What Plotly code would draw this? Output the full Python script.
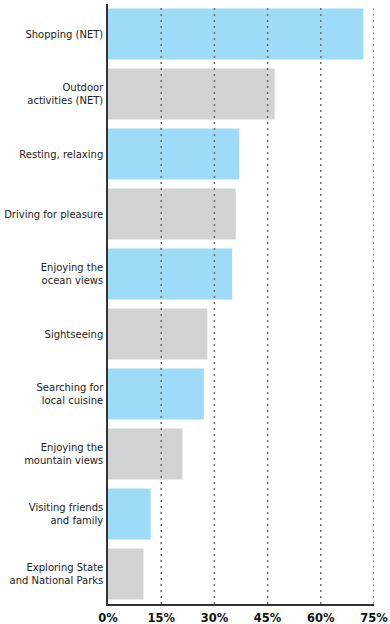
import plotly.graph_objects as go

categories = [
    "Shopping (NET)",
    "Outdoor<br>activities (NET)",
    "Resting, relaxing",
    "Driving for pleasure",
    "Enjoying the<br>ocean views",
    "Sightseeing",
    "Searching for<br>local cuisine",
    "Enjoying the<br>mountain views",
    "Visiting friends<br>and family",
    "Exploring State<br>and National Parks",
]
values = [72, 47, 37, 36, 35, 28, 27, 21, 12, 10]
tick_vals = [0, 15, 30, 45, 60, 75]
tick_text = ["0%", "15%", "30%", "45%", "60%", "75%"]

BLUE = "#9DDBF6"
GRAY = "#D1D2D4"
colors = [BLUE if i % 2 == 0 else GRAY for i in range(len(values))]

fig = go.Figure(
    go.Bar(
        x=values,
        y=categories,
        orientation="h",
        marker=dict(color=colors, line=dict(width=0)),
        hoverinfo="skip",
    )
)

shapes = []
for v in tick_vals[1:]:
    shapes.append(
        dict(
            type="line", xref="x", yref="paper", x0=v, x1=v, y0=0, y1=1,
            line=dict(color="#6f6f6f", width=1.5, dash="2px,4px"),
            layer="above",
        )
    )

fig.update_layout(
    width=390,
    height=624,
    margin=dict(l=108, r=16, t=4, b=20, autoexpand=False),
    paper_bgcolor="white",
    plot_bgcolor="white",
    bargap=0.15,
    showlegend=False,
    shapes=shapes,
    xaxis=dict(
        range=[0, 75],
        tickvals=tick_vals,
        ticktext=tick_text,
        showgrid=False,
        zeroline=False,
        showline=True,
        linecolor="#333333",
        linewidth=1.5,
        ticks="outside",
        ticklen=2,
        tickcolor="rgba(0,0,0,0)",
        tickfont=dict(family="DejaVu Sans", size=11.5, color="#111111", weight="bold"),
        automargin=False,
        fixedrange=True,
    ),
    yaxis=dict(
        autorange="reversed",
        showgrid=False,
        zeroline=False,
        showline=True,
        linecolor="#333333",
        linewidth=1.5,
        ticks="outside",
        ticklen=1,
        tickcolor="rgba(0,0,0,0)",
        tickfont=dict(family="DejaVu Sans", size=10, color="#222222"),
        automargin=False,
        fixedrange=True,
    ),
)

fig.write_html(
    "out.html",
    config={"displayModeBar": False},
    post_script="document.body.style.margin='0';document.body.style.padding='0';",
)
